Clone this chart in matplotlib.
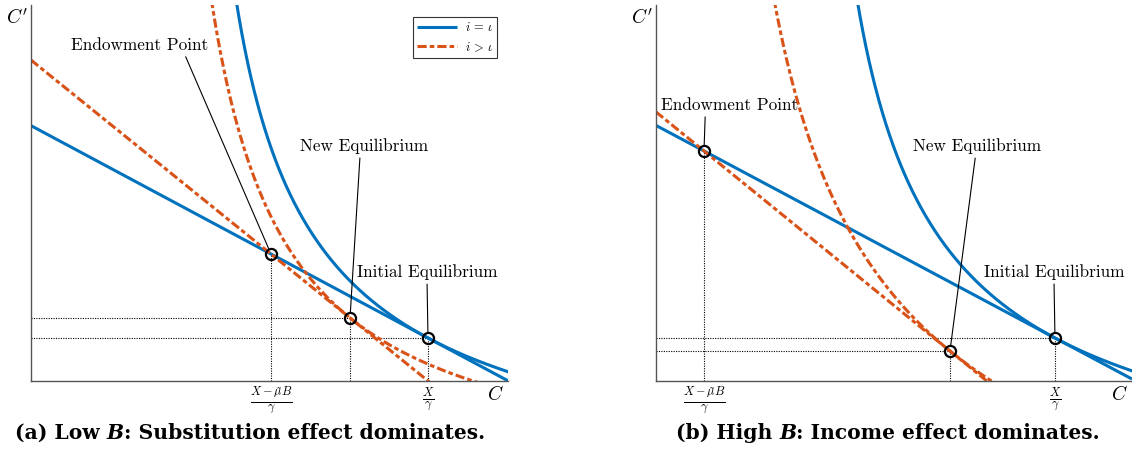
import numpy as np
import matplotlib
matplotlib.use("Agg")
import matplotlib.pyplot as plt

plt.rcParams.update({
    "font.family": "cmr10",
    "mathtext.fontset": "cm",
    "axes.unicode_minus": False,
})

BLUE = "#0072BD"
ORANGE = "#D95319"

# ---- data (axis units: C in [0,10], C' in [0,8]) ----
# panel (a): low B
a_endow = [5.031, 2.702]
a_init = [8.323, 0.915]
a_new = [6.688, 1.343]
a_blue_shape = [5.25, 0.7]     # (shift, curvature exponent) of indifference curve i = iota
a_orange_shape = [4.485, 1.0]  # (shift, curvature exponent) of indifference curve i > iota

# panel (b): high B
b_endow = [1.008, 4.894]
b_init = [8.382, 0.915]
b_new = [6.176, 0.638]
b_blue_shape = [5.48, 0.7]
b_orange_shape = [5.15, 0.5]

tick_labels = [r"$\frac{X-\tilde{\mu}B}{\gamma}$", r"$\frac{X}{\gamma}$"]
legend_labels = [r"$i\,=\,\iota$", r"$i\,>\,\iota$"]
caption_a = [("(a) Low ", "normal"), ("B", "italic"), (": Substitution effect dominates.", "normal")]
caption_b = [("(b) High ", "normal"), ("B", "italic"), (": Income effect dominates.", "normal")]
label_names = ["Endowment Point", "New Equilibrium", "Initial Equilibrium"]


def indiff(x, pt, m, s0, p):
    return pt[1] + (m * s0 / p) * ((1 + (x - pt[0]) / s0) ** (-p) - 1)


W, H = 1132, 475
fig = plt.figure(figsize=(W / 100, H / 100), dpi=100)
ax_a = fig.add_axes([31 / W, 94 / H, 477 / W, 376 / H])
ax_b = fig.add_axes([656 / W, 94 / H, 476 / W, 376 / H])

panels = [
    (ax_a, a_endow, a_init, a_new, a_blue_shape, a_orange_shape,
     [(2.285, 7.149, 0.82), (6.981, 5.0, 0.47), (8.302, 2.319, 0.5)]),
    (ax_b, b_endow, b_init, b_new, b_blue_shape, b_orange_shape,
     [(1.555, 5.872, 0.32), (6.744, 5.0, 0.49), (8.361, 2.319, 0.5)]),
]

lw = 2.2
dash = (3.0, 1.0, 1.5, 1.0)

for i, (ax, endow, init, new, bshape, oshape, labpos) in enumerate(panels):
    ax.set_xlim(0, 10)
    ax.set_ylim(0, 8)
    xs = np.linspace(0, 10, 600)
    m_blue = (init[1] - endow[1]) / (init[0] - endow[0])
    m_orange = (new[1] - endow[1]) / (new[0] - endow[0])
    # budget lines
    ax.plot(xs, endow[1] + m_blue * (xs - endow[0]), color=BLUE, lw=lw,
            solid_capstyle="butt", label=legend_labels[0])
    ax.plot(xs, endow[1] + m_orange * (xs - endow[0]), color=ORANGE, lw=lw,
            dashes=dash, label=legend_labels[1])
    # indifference curves
    xb = np.linspace(init[0] - bshape[0] + 0.02, 10, 1500)
    ax.plot(xb, indiff(xb, init, -m_blue, *bshape), color=BLUE, lw=lw)
    xo = np.linspace(new[0] - oshape[0] + 0.02, 10, 1500)
    ax.plot(xo, indiff(xo, new, -m_orange, *oshape), color=ORANGE, lw=lw, dashes=dash)

    # dotted guides
    dkw = dict(color="black", lw=0.8, ls=(0, (1, 1.2)), zorder=1)
    ax.plot([endow[0], endow[0]], [0, endow[1]], **dkw)
    for pt in (init, new):
        ax.plot([pt[0], pt[0]], [0, pt[1]], **dkw)
        ax.plot([0, pt[0]], [pt[1], pt[1]], **dkw)

    # points
    for pt in (endow, new, init):
        ax.plot(pt[0], pt[1], "o", ms=8, mfc="none", mec="black", mew=1.6, zorder=5)

    # annotations
    for name, pt, (tx, ty, rx) in zip(label_names, (endow, new, init), labpos):
        ax.annotate(name, xy=(pt[0], pt[1]), xytext=(tx, ty), textcoords="data",
                    ha="center", va="center", fontsize=12.4,
                    arrowprops=dict(arrowstyle="-", color="black", lw=0.8,
                                    relpos=(rx, 0), shrinkA=1, shrinkB=4))

    # axes styling
    for s in ("top", "right"):
        ax.spines[s].set_visible(False)
    for s in ("left", "bottom"):
        ax.spines[s].set_color("#555555")
        ax.spines[s].set_linewidth(1.0)
    ax.set_yticks([])
    ax.set_xticks([endow[0], init[0]])
    ax.set_xticklabels(tick_labels, fontsize=12.5)
    ax.tick_params(axis="x", length=0, pad=3)
    ax.text(0.974, -0.037, r"$C$", transform=ax.transAxes, ha="center", va="center",
            fontsize=14)
    ax.text(-0.03, 0.965, r"$C'$", transform=ax.transAxes, ha="center", va="center",
            fontsize=14)

leg = ax_a.legend(loc="upper right", bbox_to_anchor=(0.99, 0.985), fontsize=9,
                  handlelength=3.2, fancybox=False, edgecolor="#333333",
                  framealpha=1, borderpad=0.35, labelspacing=0.45, handletextpad=0.6)
leg.get_frame().set_linewidth(0.8)

renderer = fig.canvas.get_renderer()


def caption(xc_px, base_px, parts):
    texts = [fig.text(0, 1 - base_px / H, s, ha="left", va="baseline", fontsize=14.6,
                      family="DejaVu Serif", weight="bold", style=st)
             for s, st in parts]
    widths = [t.get_window_extent(renderer).width for t in texts]
    x = xc_px - sum(widths) / 2
    for t, w in zip(texts, widths):
        t.set_x(x / W)
        x += w


caption(250, 439, caption_a)
caption(888, 439, caption_b)

fig.savefig("out.png", dpi=100)
